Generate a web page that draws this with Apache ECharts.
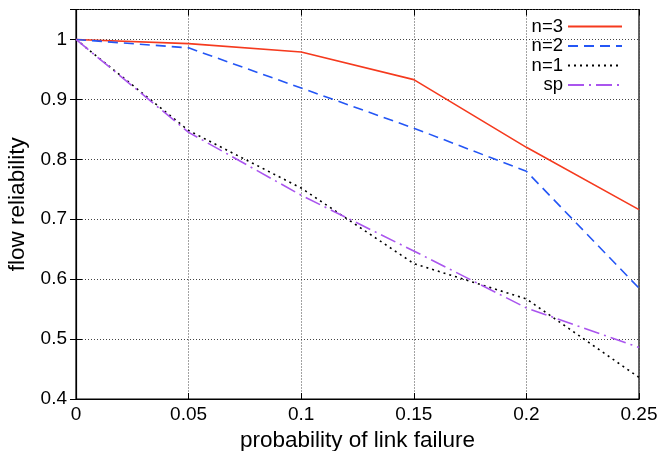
<!DOCTYPE html>
<html>
<head>
<meta charset="utf-8">
<script src="https://cdn.jsdelivr.net/npm/echarts@6/dist/echarts.min.js"></script>
<style>
    html, body { margin: 0; padding: 0; background: #fff; }
    #chart { width: 660px; height: 451px; }
</style>
</head>
<body>
<div id="chart"></div>
<script>
    var failProb = [0, 0.05, 0.1, 0.15, 0.2, 0.25];
    var n3 = [1, 0.993, 0.979, 0.933, 0.820, 0.716];
    var n2 = [1, 0.986, 0.919, 0.852, 0.780, 0.585];
    var n1 = [1, 0.848, 0.752, 0.626, 0.567, 0.436];
    var sp = [1, 0.845, 0.740, 0.647, 0.552, 0.486];

    var font = '"Liberation Sans", Arial, Helvetica, sans-serif';

    function pairs(ys) {
        return failProb.map(function (x, i) { return [x, ys[i]]; });
    }

    var myChart = echarts.init(document.getElementById('chart'));

    var gridLine = { show: true, lineStyle: { color: '#444', width: 1, type: [1, 2] } };
    var tick = { show: true, inside: true, length: 6, lineStyle: { color: '#000', width: 1 } };

    var option = {
        animation: false,
        backgroundColor: '#fff',
        grid: {
            left: 76, right: 21, top: 9.5, bottom: 52,
            outerBoundsMode: 'none',
            show: true, borderColor: '#000', borderWidth: 1.2
        },
        legend: {
            orient: 'vertical',
            right: 32,
            top: 12,
            align: 'right',
            itemWidth: 54,
            itemHeight: 14,
            itemGap: 0.5,
            itemStyle: { opacity: 0 },
            textStyle: { fontFamily: font, fontSize: 18.5, lineHeight: 19, color: '#000' },
            data: ['n=3', 'n=2', 'n=1', 'sp']
        },
        xAxis: [{
            type: 'value',
            min: 0, max: 0.25, interval: 0.05,
            name: 'probability of link failure',
            nameLocation: 'middle',
            nameGap: 28,
            nameTextStyle: { fontFamily: font, fontSize: 22.5, color: '#000' },
            axisLine: { show: true, lineStyle: { color: '#000', width: 1.2 } },
            axisTick: tick,
            axisLabel: { fontFamily: font, fontSize: 19, color: '#000', margin: 6 },
            splitLine: gridLine
        }, {
            type: 'value', position: 'top',
            min: 0, max: 0.25, interval: 0.05,
            axisLine: { show: false },
            axisTick: tick,
            axisLabel: { show: false },
            splitLine: { show: false }
        }],
        yAxis: [{
            type: 'value',
            min: 0.4, max: 1.05, interval: 0.1,
            name: 'flow reliability',
            nameLocation: 'middle',
            nameGap: 34,
            nameTextStyle: { fontFamily: font, fontSize: 22.5, color: '#000' },
            axisLine: { show: true, lineStyle: { color: '#000', width: 1.2 } },
            axisTick: tick,
            axisLabel: { fontFamily: font, fontSize: 19, color: '#000', margin: 9, showMaxLabel: false },
            splitLine: gridLine
        }, {
            type: 'value', position: 'right',
            min: 0.4, max: 1.05, interval: 0.1,
            axisLine: { show: false },
            axisTick: tick,
            axisLabel: { show: false },
            splitLine: { show: false }
        }],
        series: [{
            name: 'n=3', type: 'line', data: pairs(n3),
            symbol: 'none', color: '#f53a1e',
            lineStyle: { width: 1.6, color: '#f53a1e' }
        }, {
            name: 'n=2', type: 'line', data: pairs(n2),
            symbol: 'none', color: '#2456f5',
            lineStyle: { width: 1.6, color: '#2456f5', type: [10, 6] }
        }, {
            name: 'n=1', type: 'line', data: pairs(n1),
            symbol: 'none', color: '#000',
            lineStyle: { width: 1.6, color: '#000', type: [2, 4] }
        }, {
            name: 'sp', type: 'line', data: pairs(sp),
            symbol: 'none', color: '#aa55ee',
            lineStyle: { width: 1.6, color: '#aa55ee', type: [16, 5, 2, 5] }
        }]
    };

    myChart.setOption(option);
</script>
</body>
</html>
